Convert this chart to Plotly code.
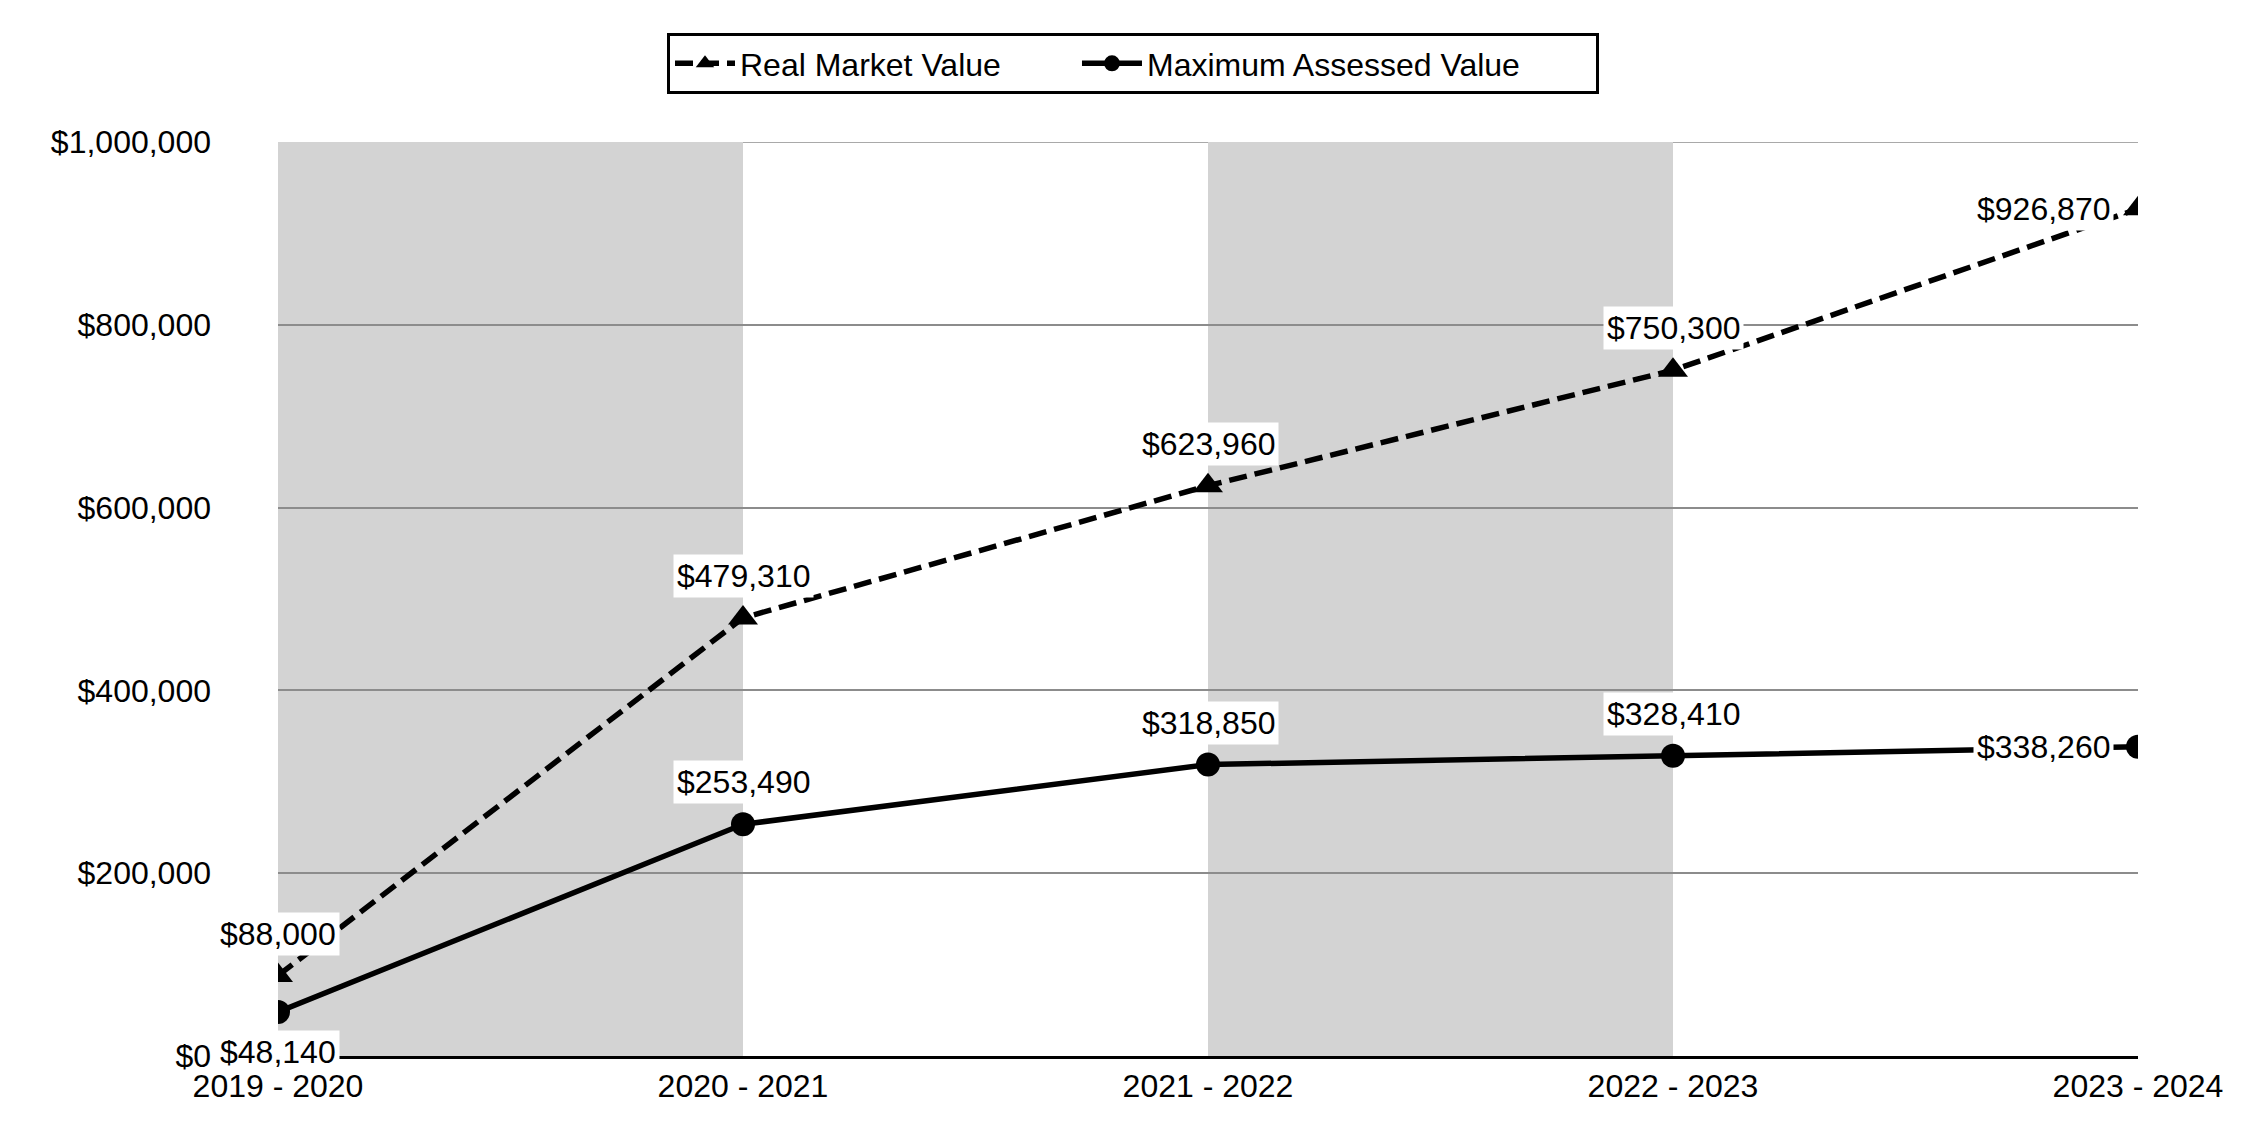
import plotly.graph_objects as go

categories = ["2019 - 2020", "2020 - 2021", "2021 - 2022", "2022 - 2023", "2023 - 2024"]
real_market_value = [88000, 479310, 623960, 750300, 926870]
max_assessed_value = [48140, 253490, 318850, 328410, 338260]
series_names = ["Real Market Value", "Maximum Assessed Value"]
y_ticks = [0, 200000, 400000, 600000, 800000, 1000000]
y_tick_labels = [f"${v:,}" for v in y_ticks]
shaded_bands = [(0, 1), (2, 3)]  # category index pairs

FONT = "Liberation Sans, Arial, sans-serif"
NBSP = "\u00a0"

fig = go.Figure()

fig.add_trace(go.Scatter(
    x=categories, y=real_market_value, name=series_names[0] + NBSP * 8,
    mode="lines+markers",
    line=dict(color="black", width=5.5, dash="18px,8px"),
    marker=dict(symbol="triangle-up", size=26, color="black"),
    hoverinfo="skip",
))
fig.add_trace(go.Scatter(
    x=categories, y=max_assessed_value, name=series_names[1] + NBSP * 8,
    mode="lines+markers",
    line=dict(color="black", width=5.5),
    marker=dict(symbol="circle", size=24, color="black"),
    hoverinfo="skip",
))

# shaded alternating bands
for a, b in shaded_bands:
    fig.add_shape(type="rect", xref="x", yref="y",
                  x0=categories[a], x1=categories[b], y0=y_ticks[0], y1=y_ticks[-1],
                  fillcolor="#d3d3d3", line=dict(width=0), layer="below")

# top gridline (at range edge)
fig.add_shape(type="line", xref="paper", yref="y", x0=0, x1=1,
              y0=y_ticks[-1], y1=y_ticks[-1],
              line=dict(color="#8c8c8c", width=1.5), layer="below")

# data labels
def label(x, v, pos):
    kw = dict(x=x, y=v, xref="x", yref="y", text=f"${v:,}", showarrow=False,
              bgcolor="white", borderpad=3,
              font=dict(family=FONT, size=32, color="black"))
    if pos == "top":
        kw.update(xanchor="center", yanchor="middle", yshift=42)
    elif pos == "bottom":
        kw.update(xanchor="center", yanchor="middle", yshift=-40)
    else:
        kw.update(xanchor="right", yanchor="middle", xshift=-24)
    fig.add_annotation(**kw)

n = len(categories)
for i, (c, v) in enumerate(zip(categories, real_market_value)):
    label(c, v, "left" if i == n - 1 else "top")
for i, (c, v) in enumerate(zip(categories, max_assessed_value)):
    label(c, v, "left" if i == n - 1 else ("bottom" if i == 0 else "top"))

fig.update_layout(
    width=2250, height=1140,
    margin=dict(l=270, r=120, t=134, b=92),
    paper_bgcolor="white", plot_bgcolor="white",
    font=dict(family=FONT, size=32, color="black"),
    showlegend=True,
    legend=dict(
        orientation="h", xref="container", yref="container",
        x=0.5, xanchor="center", y=1 - 25 / 1140, yanchor="top",
        bordercolor="black", borderwidth=3, bgcolor="white",
        font=dict(family=FONT, size=32, color="black"),
        itemwidth=60,
    ),
    xaxis=dict(
        type="category", range=[0, n - 1],
        showgrid=False, zeroline=False,
        showline=True, linecolor="black", linewidth=3,
        ticks="", tickfont=dict(family=FONT, size=32, color="black"),
    ),
    yaxis=dict(
        range=[y_ticks[0], y_ticks[-1]], tickvals=y_ticks, ticktext=y_tick_labels,
        showgrid=True, gridcolor="#8c8c8c", gridwidth=1.5,
        zeroline=False, showline=False, ticks="",
        ticklabelstandoff=66,
        tickfont=dict(family=FONT, size=32, color="black"),
    ),
)

fig.write_html("out.html")
